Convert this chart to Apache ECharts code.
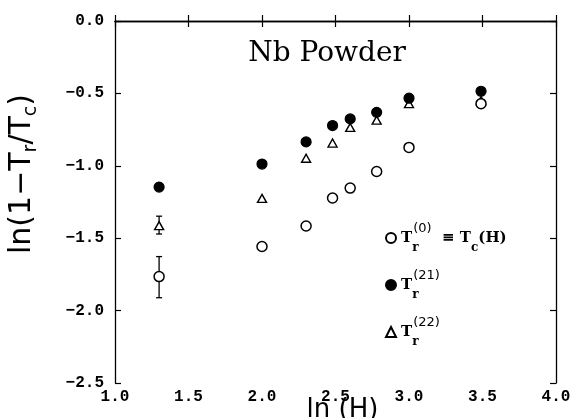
<!DOCTYPE html>
<html>
<head>
<meta charset="utf-8">
<script src="https://cdn.jsdelivr.net/npm/echarts@6/dist/echarts.min.js"></script>
<style>
  html, body { margin: 0; padding: 0; background: #fff; }
  #chart { width: 570px; height: 418px; }
</style>
</head>
<body>
<div id="chart"></div>
<script>
// ln(H) positions shared by all three series
const lnH = [1.30, 2.00, 2.30, 2.48, 2.60, 2.78, 3.00, 3.49];
const tr0 = [-1.765, -1.557, -1.416, -1.222, -1.154, -1.039, -0.873, -0.571];   // open circles
const tr21 = [-1.147, -0.988, -0.835, -0.722, -0.676, -0.631, -0.533, -0.485];  // filled circles
const tr22 = [-1.413, -1.225, -0.948, -0.843, -0.735, -0.685, -0.571, -0.55];   // triangles
// error bars at the first point: [x, low, high]
const errBars = [
  [1.30, -1.911, -1.627],
  [1.30, -1.471, -1.348],
];
const xTicks = ['1.0', '1.5', '2.0', '2.5', '3.0', '3.5', '4.0'];
const yTicks = ['0.0', '-0.5', '-1.0', '-1.5', '-2.0', '-2.5'];

const pair = (ys) => lnH.map((x, i) => [x, ys[i]]);
const tickFont = { fontFamily: 'Liberation Mono', fontWeight: 'bold', fontSize: 16, color: '#000' };
const line = { lineStyle: { color: '#000', width: 1.3 } };
const tick = { inside: true, length: 6, lineStyle: { color: '#000', width: 1.2 } };

const chart = echarts.init(document.getElementById('chart'));
chart.setOption({
  backgroundColor: '#fff',
  animation: false,
  grid: { left: 115, right: 14, top: 21, bottom: 35, outerBoundsMode: 'none', containLabel: false },
  title: {
    text: 'Nb Powder',
    left: 322,
    top: 35,
    textAlign: 'center',
    textStyle: { fontFamily: 'DejaVu Serif', fontWeight: 'normal', fontSize: 28, color: '#000' },
  },
  legend: {
    orient: 'vertical',
    left: 380,
    top: 217,
    itemGap: 15,
    itemWidth: 10,
    itemHeight: 10,
    textStyle: {
      fontFamily: 'DejaVu Serif',
      color: '#000',
      rich: {
        t: { fontSize: 15, fontFamily: 'DejaVu Serif', fontWeight: 'bold', verticalAlign: 'middle', lineHeight: 32 },
        sub: { fontSize: 12, fontFamily: 'DejaVu Serif', fontWeight: 'bold', verticalAlign: 'bottom', lineHeight: 32, width: 1 },
        subc: { fontSize: 12, fontFamily: 'DejaVu Serif', fontWeight: 'bold', verticalAlign: 'bottom', lineHeight: 32 },
        sup: { fontSize: 13, fontFamily: 'DejaVu Sans', verticalAlign: 'top', lineHeight: 32 },
      },
    },
    formatter(name) {
      if (name === 'T0') return '{t|T}{sub|r}{sup|(0)}{t|  ≡ T}{subc|c}{t|(H)}';
      if (name === 'T21') return '{t|T}{sub|r}{sup|(21)}';
      return '{t|T}{sub|r}{sup|(22)}';
    },
    data: ['T0', 'T21', 'T22'],
  },
  xAxis: [{
    type: 'value',
    min: 1.0,
    max: 4.0,
    interval: 0.5,
    name: 'ln (H)',
    nameLocation: 'middle',
    nameGap: 14,
    nameMoveOverlap: false,
    nameTextStyle: { fontFamily: 'DejaVu Sans', fontSize: 26, color: '#000', padding: [0, 0, 0, 14] },
    axisLine: line,
    axisTick: tick,
    axisLabel: Object.assign({ margin: 6, formatter: (v) => xTicks[Math.round((v - 1) * 2)] }, tickFont),
    splitLine: { show: false },
  }, {
    type: 'value',
    position: 'top',
    min: 1.0,
    max: 4.0,
    interval: 0.5,
    axisLine: line,
    axisTick: tick,
    axisLabel: { show: false },
    splitLine: { show: false },
  }],
  yAxis: [{
    type: 'value',
    min: -2.5,
    max: 0,
    interval: 0.5,
    name: '{a|ln(1−T}{s|r}{a|/T}{s|c}{a|)}',
    nameLocation: 'middle',
    nameGap: 74,
    nameMoveOverlap: false,
    nameTextStyle: {
      color: '#000',
      padding: [0, 0, 0, 56],
      rich: {
        a: { fontFamily: 'DejaVu Sans', fontSize: 30, color: '#000', verticalAlign: 'middle', lineHeight: 38 },
        s: { fontFamily: 'DejaVu Sans', fontSize: 19, color: '#000', verticalAlign: 'bottom', lineHeight: 38 },
      },
    },
    axisLine: line,
    axisTick: tick,
    axisLabel: Object.assign({ margin: 11, formatter: (v) => yTicks[Math.round(-v * 2)].replace('-', '−') }, tickFont),
    splitLine: { show: false },
  }, {
    type: 'value',
    position: 'right',
    min: -2.5,
    max: 0,
    interval: 0.5,
    axisLine: line,
    axisTick: tick,
    axisLabel: { show: false },
    splitLine: { show: false },
  }],
  series: [
    {
      name: 'errors',
      type: 'custom',
      z: 1,
      data: errBars,
      renderItem(params, api) {
        const top = api.coord([api.value(0), api.value(2)]);
        const bot = api.coord([api.value(0), api.value(1)]);
        const c = 3;
        const s = { stroke: '#000', lineWidth: 1.3 };
        return {
          type: 'group',
          children: [
            { type: 'line', shape: { x1: top[0], y1: top[1], x2: bot[0], y2: bot[1] }, style: s },
            { type: 'line', shape: { x1: top[0] - c, y1: top[1], x2: top[0] + c, y2: top[1] }, style: s },
            { type: 'line', shape: { x1: bot[0] - c, y1: bot[1], x2: bot[0] + c, y2: bot[1] }, style: s },
          ],
        };
      },
    },
    {
      name: 'T22',
      type: 'scatter',
      symbol: 'triangle',
      symbolSize: [9, 8],
      z: 3,
      itemStyle: { color: '#fff', borderColor: '#000', borderWidth: 1.4, opacity: 1 },
      data: pair(tr22),
    },
    {
      name: 'T0',
      type: 'scatter',
      symbol: 'circle',
      symbolSize: 10,
      z: 4,
      itemStyle: { color: '#fff', borderColor: '#000', borderWidth: 1.5, opacity: 1 },
      data: pair(tr0),
    },
    {
      name: 'T21',
      type: 'scatter',
      symbol: 'circle',
      symbolSize: 10,
      z: 5,
      itemStyle: { color: '#000', borderColor: '#000', borderWidth: 1.2, opacity: 1 },
      data: pair(tr21),
    },
  ],
});
</script>
</body>
</html>
